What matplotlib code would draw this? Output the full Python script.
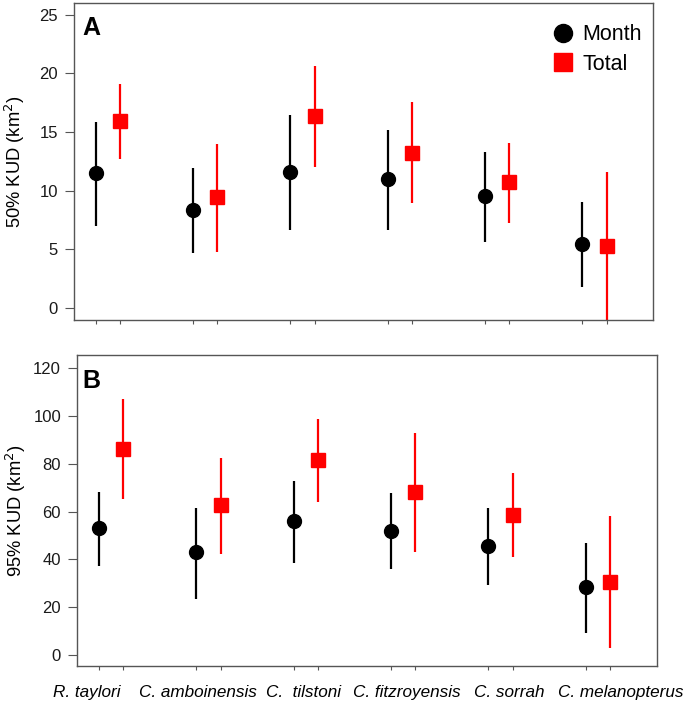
import numpy as np
import matplotlib
matplotlib.use("Agg")
import matplotlib.pyplot as plt
from matplotlib.lines import Line2D

plt.rcParams["font.family"] = ["Liberation Sans", "DejaVu Sans"]

species = ["R. taylori", "C. amboinensis", "C.  tilstoni", "C. fitzroyensis", "C. sorrah", "C. melanopterus"]
# species names sit a little wider apart than the points themselves
label_x = [0.75, 1.89, 2.98, 4.04, 5.09, 6.23]

# 50% KUD (km2): mean, lower, upper
kud50_month = [11.5, 8.35, 11.6, 11.0, 9.5, 5.45]
kud50_month_lo = [7.0, 4.7, 6.6, 6.6, 5.65, 1.75]
kud50_month_hi = [15.85, 11.95, 16.45, 15.2, 13.3, 9.0]
kud50_total = [15.95, 9.45, 16.35, 13.2, 10.75, 5.3]
kud50_total_lo = [12.7, 4.8, 12.0, 8.9, 7.25, -2.0]
kud50_total_hi = [19.1, 14.0, 20.6, 17.6, 14.1, 11.55]

# 95% KUD (km2): mean, lower, upper
kud95_month = [53.3, 43.1, 56.1, 52.0, 45.5, 28.3]
kud95_month_lo = [37.4, 23.6, 38.5, 36.1, 29.2, 9.2]
kud95_month_hi = [68.2, 61.7, 72.7, 67.9, 61.4, 46.8]
kud95_total = [86.2, 62.8, 81.5, 68.1, 58.6, 30.4]
kud95_total_lo = [65.2, 42.3, 63.9, 43.1, 41.0, 2.8]
kud95_total_hi = [107.0, 82.6, 98.9, 92.8, 76.0, 58.2]

x = np.arange(1, len(species) + 1)
off = 0.125
spine_col = "#555555"


def draw_panel(ax, m, m_lo, m_hi, t, t_lo, t_hi):
    ax.vlines(x - off, m_lo, m_hi, color="black", lw=1.6)
    ax.plot(x - off, m, "o", color="black", ms=10)
    ax.vlines(x + off, t_lo, t_hi, color="red", lw=1.6)
    ax.plot(x + off, t, "s", color="red", ms=10)
    ax.set_xlim(0.65, 6.6)
    ax.set_xticks(np.sort(np.concatenate([x - off, x + off])))
    ax.set_xticklabels([])
    ax.tick_params(axis="x", length=3, color=spine_col)
    ax.tick_params(axis="y", length=6.5, pad=5, color=spine_col,
                   labelsize=12, labelcolor="#1a1a1a")
    for s in ax.spines.values():
        s.set_color(spine_col)
        s.set_linewidth(1.0)


fig = plt.figure(figsize=(6.85, 7.02), dpi=100)
axA = fig.add_axes([0.108, 0.544, 0.845, 0.4516])
axB = fig.add_axes([0.1124, 0.0513, 0.846, 0.443])

draw_panel(axA, kud50_month, kud50_month_lo, kud50_month_hi,
           kud50_total, kud50_total_lo, kud50_total_hi)
axA.set_ylim(-1.05, 26.0)
axA.set_yticks([0, 5, 10, 15, 20, 25])
axA.set_ylabel("50% KUD (km$^2$)", fontsize=13.2, labelpad=9)
axA.text(0.014, 0.958, "A", transform=axA.transAxes, fontsize=18,
         fontweight="bold", va="top", ha="left")

handles = [Line2D([], [], marker="o", color="black", ls="none", ms=13),
           Line2D([], [], marker="s", color="red", ls="none", ms=13)]
axA.legend(handles, ["Month", "Total"], loc="upper right",
           bbox_to_anchor=(1.014, 0.994), frameon=False,
           fontsize=15.5, handletextpad=0.3, labelspacing=0.4,
           borderaxespad=0.5, handlelength=1.2)

draw_panel(axB, kud95_month, kud95_month_lo, kud95_month_hi,
           kud95_total, kud95_total_lo, kud95_total_hi)
axB.set_ylim(-4.6, 125.6)
axB.set_yticks([0, 20, 40, 60, 80, 100, 120])
axB.set_ylabel("95% KUD (km$^2$)", fontsize=13.2, labelpad=4)
axB.text(0.01, 0.955, "B", transform=axB.transAxes, fontsize=18,
         fontweight="bold", va="top", ha="left")
for lx, name in zip(label_x, species):
    axB.text(lx, -0.06, name, transform=axB.get_xaxis_transform(),
             ha="center", va="top", fontsize=12.3, style="italic")

fig.savefig("out.png", dpi=100)
